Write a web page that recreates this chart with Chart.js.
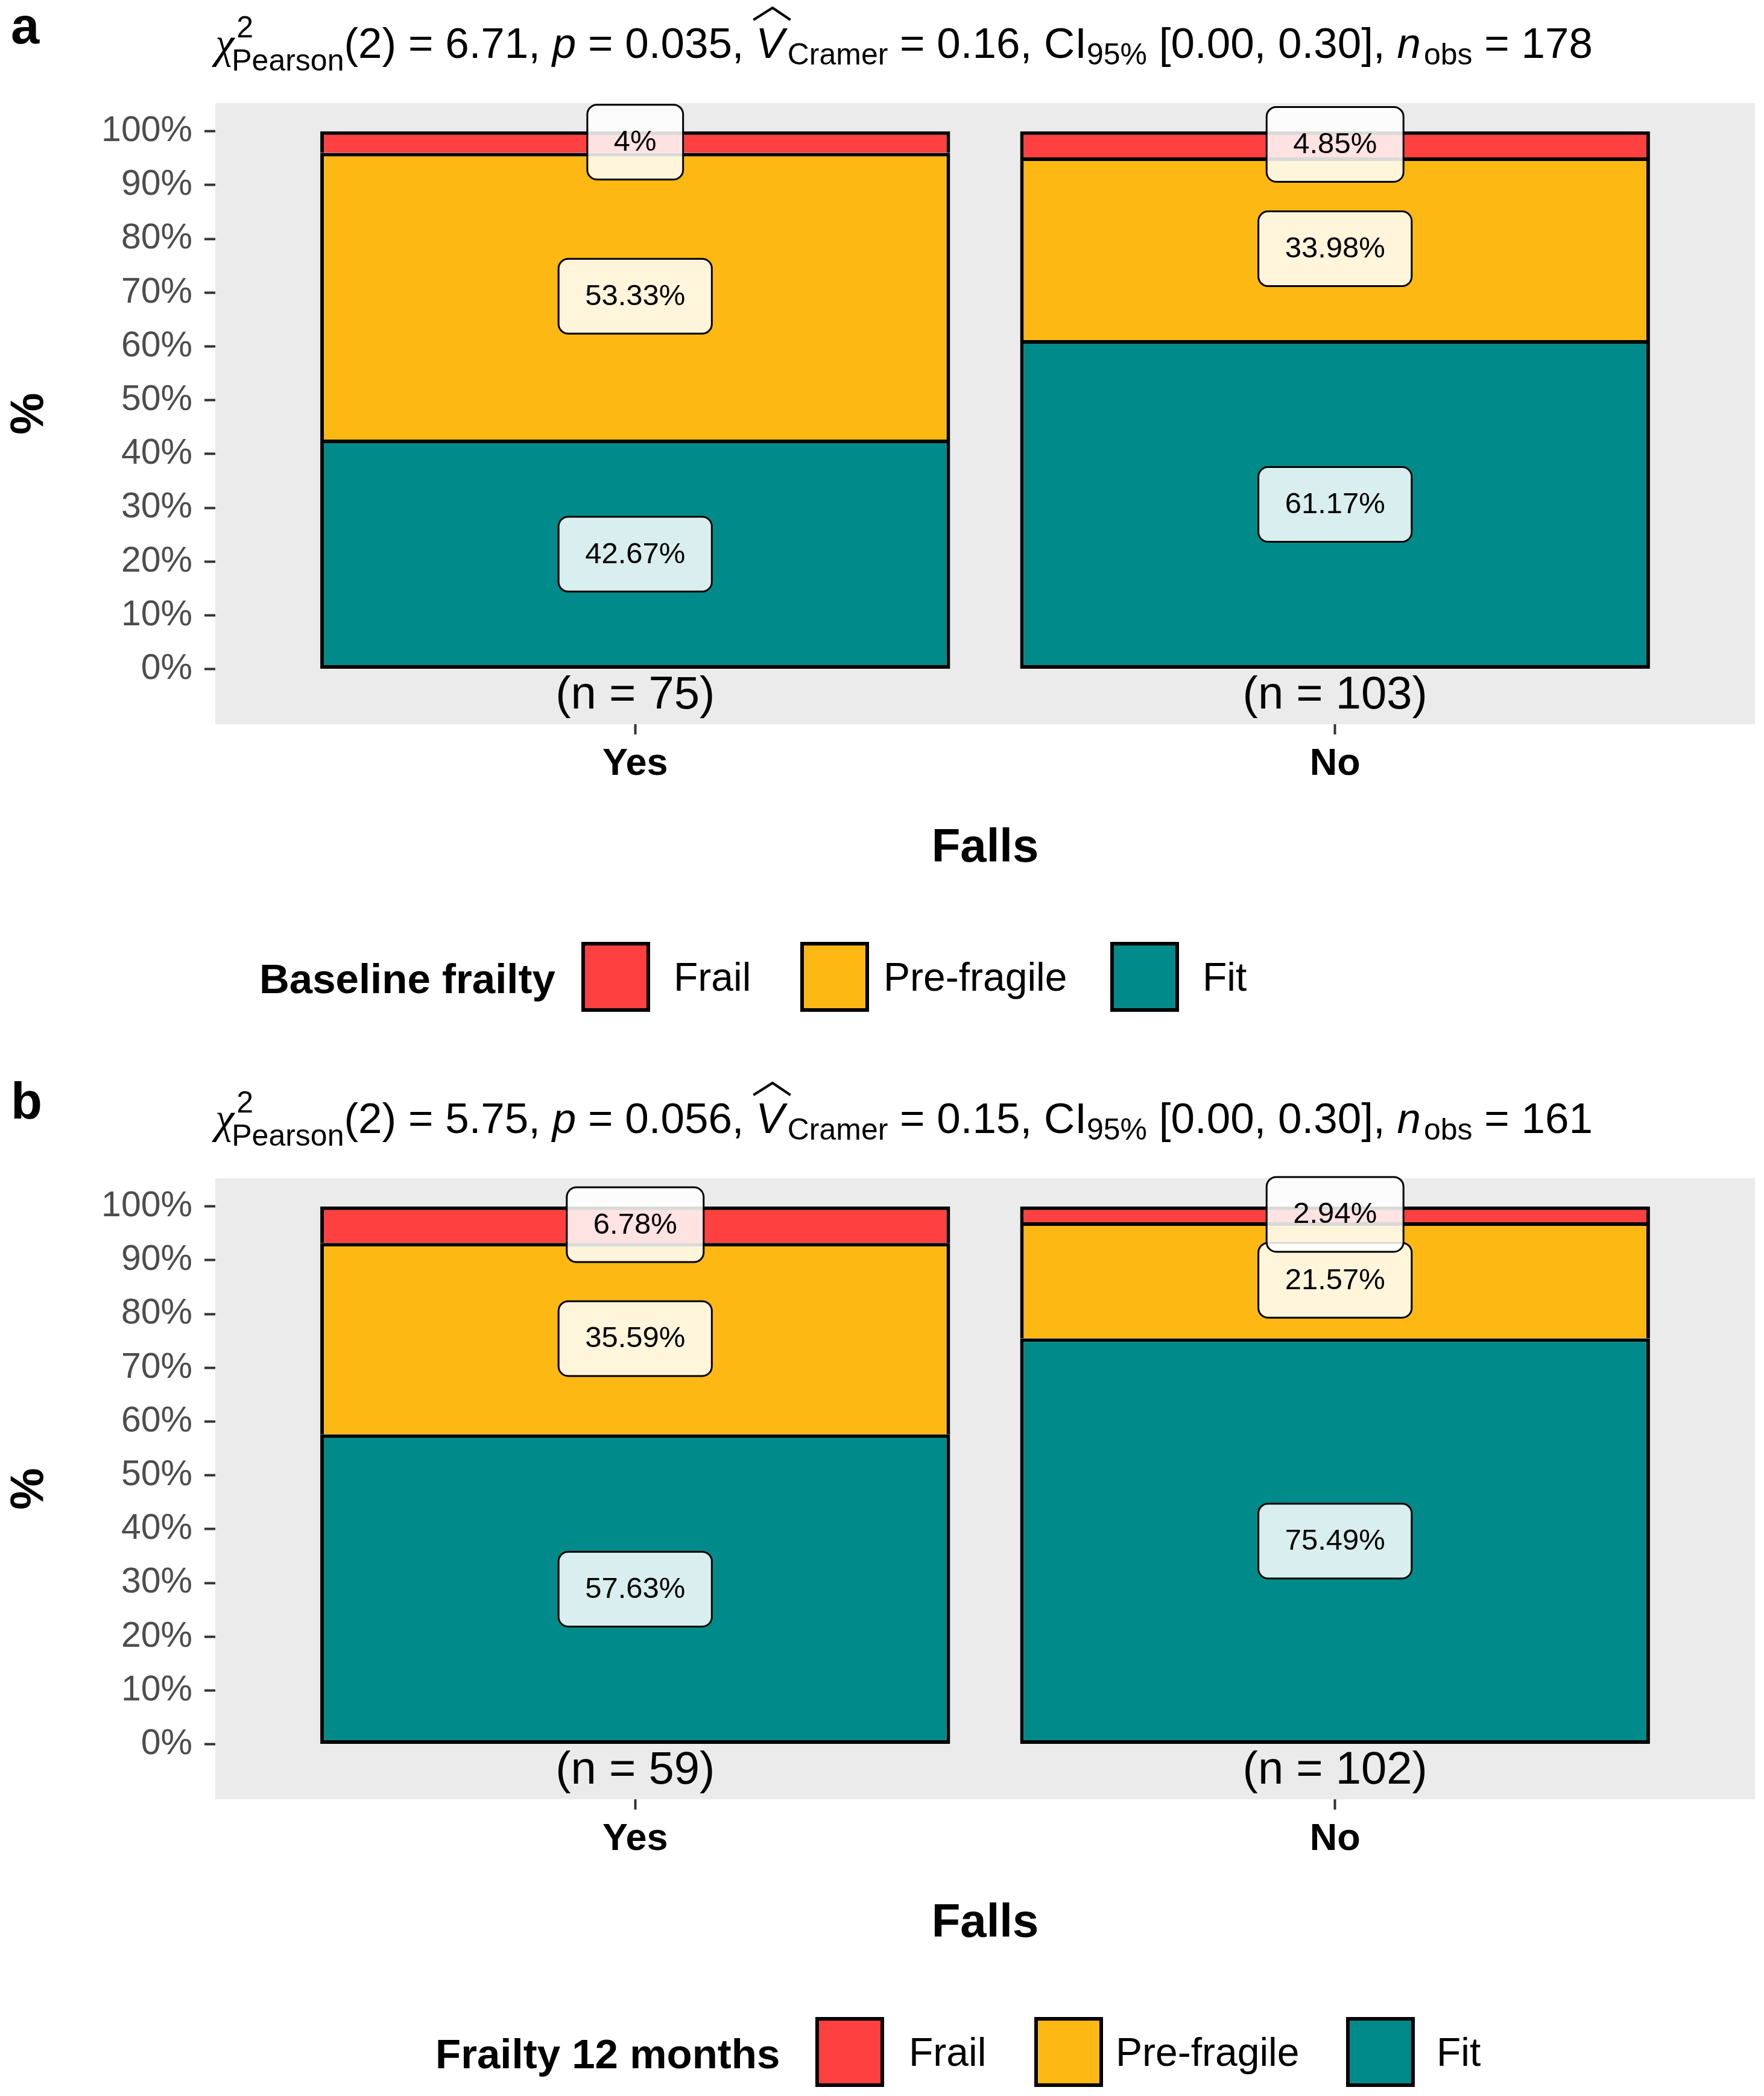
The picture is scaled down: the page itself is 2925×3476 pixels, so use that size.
<!DOCTYPE html>
<html>
<head>
<meta charset="utf-8">
<script src="https://cdn.jsdelivr.net/npm/chart.js@4.4.1/dist/chart.umd.min.js"></script>
<style>
  html, body { margin: 0; padding: 0; background: #ffffff; }
  body { width: 2925px; height: 3476px; overflow: hidden; position: relative; }
  .panel { position: absolute; left: 0; width: 2925px; }
  #pa { top: 0; height: 1783px; }
  #pb { top: 1783px; height: 1693px; }
  canvas { display: block; }
</style>
</head>
<body>
<div class="panel" id="pa"><canvas id="chartA" width="2925" height="1783"></canvas></div>
<div class="panel" id="pb"><canvas id="chartB" width="2925" height="1693"></canvas></div>
<script>
// categories and levels
var groups = ["Yes", "No"];
var levels = ["Frail", "Pre-fragile", "Fit"];
var levelColors = ["#FF4040", "#FDB813", "#008B8A"];
var yTicks = [0, 10, 20, 30, 40, 50, 60, 70, 80, 90, 100];

// panel a - baseline frailty (percent within each group)
var frailA = [4.00, 4.85];
var preA = [53.33, 33.98];
var fitA = [42.67, 61.17];
var countsA = [75, 103];
var statsA = ["2", "6.71", "0.035", "0.16", "0.00", "0.30", "178"];

// panel b - frailty at 12 months
var frailB = [6.78, 2.94];
var preB = [35.59, 21.57];
var fitB = [57.63, 75.49];
var countsB = [59, 102];
var statsB = ["2", "5.75", "0.056", "0.15", "0.00", "0.30", "161"];

var SANS = "'Liberation Sans', Arial, Helvetica, sans-serif";

function rrect(ctx, x, y, w, h, r) {
  ctx.beginPath();
  ctx.moveTo(x + r, y);
  ctx.lineTo(x + w - r, y);
  ctx.arcTo(x + w, y, x + w, y + r, r);
  ctx.lineTo(x + w, y + h - r);
  ctx.arcTo(x + w, y + h, x + w - r, y + h, r);
  ctx.lineTo(x + r, y + h);
  ctx.arcTo(x, y + h, x, y + h - r, r);
  ctx.lineTo(x, y + r);
  ctx.arcTo(x, y, x + r, y, r);
  ctx.closePath();
}

// chi-square subtitle with sub/superscripts
function drawStats(ctx, st, x, base) {
  var F = 71, f = 50;
  var reg = F + "px " + SANS, it = "italic " + F + "px " + SANS, sub = f + "px " + SANS;
  ctx.fillStyle = "#000";
  ctx.textAlign = "left";
  ctx.textBaseline = "alphabetic";
  function put(t, font, dy, dx) {
    ctx.font = font;
    ctx.fillText(t, x + (dx || 0), base + dy);
    return ctx.measureText(t).width;
  }
  x += put("\u03C7", "italic " + F + "px 'Liberation Serif', serif", 0) - 4;
  var w1 = put("2", sub, -34, 8);
  var w2 = put("Pearson", sub, 21);
  x += Math.max(w1 + 8, w2);
  x += put("(" + st[0] + ") = " + st[1] + ", ", reg, 0);
  x += put("p", it, 0);
  x += put(" = " + st[2] + ", ", reg, 0);
  var vx = x;
  var vw = put("V", it, 0);
  ctx.beginPath();
  ctx.moveTo(vx - 4, base - 63);
  ctx.lineTo(vx + vw / 2 + 4, base - 83);
  ctx.lineTo(vx + vw + 10, base - 63);
  ctx.lineWidth = 4;
  ctx.strokeStyle = "#000";
  ctx.stroke();
  x += vw + 5;
  x += put("Cramer", sub, 11);
  x += put(" = " + st[3] + ", CI", reg, 0);
  x += put("95%", sub, 11);
  x += put(" [" + st[4] + ", " + st[5] + "], ", reg, 0);
  x += put("n", it, 0) + 5;
  x += put("obs", sub, 11);
  put(" = " + st[6], reg, 0);
}

function makePlugin(cfg) {
  return {
    id: "frailty" + cfg.letter,
    beforeDraw: function (chart) {
      var ctx = chart.ctx, a = chart.chartArea;
      ctx.save();
      ctx.fillStyle = "#ffffff";
      ctx.fillRect(0, 0, chart.width, chart.height);
      ctx.fillStyle = "#EBEBEB";
      ctx.fillRect(a.left, a.top, a.right - a.left, a.bottom - a.top);
      ctx.restore();
    },
    afterDatasetsDraw: function (chart) {
      var ctx = chart.ctx, xs = chart.scales.x, ys = chart.scales.y;
      ctx.save();
      ctx.textAlign = "center";
      ctx.textBaseline = "middle";
      ctx.fillStyle = "#000";
      ctx.font = "76px " + SANS;
      cfg.counts.forEach(function (n, i) {
        ctx.fillText("(n = " + n + ")", xs.getPixelForValue(i + 1), ys.getPixelForValue(-5));
      });
      ctx.font = "49px " + SANS;
      chart.data.datasets.forEach(function (ds, di) {
        var meta = chart.getDatasetMeta(di);
        meta.data.forEach(function (bar, j) {
          var v = ds.data[j].y;
          var txt = (+v.toFixed(2)) + "%";
          var p = bar.getProps(["x", "y", "base"], true);
          var cy = (p.y + p.base) / 2;
          var w = ctx.measureText(txt).width + 88, h = 124;
          rrect(ctx, p.x - w / 2, cy - h / 2, w, h, 16);
          ctx.fillStyle = "rgba(255,255,255,0.85)";
          ctx.fill();
          ctx.lineWidth = 3;
          ctx.strokeStyle = "#000";
          ctx.stroke();
          ctx.fillStyle = "#000";
          ctx.fillText(txt, p.x, cy + 1);
        });
      });
      ctx.restore();
    },
    afterDraw: function (chart) {
      var ctx = chart.ctx;
      ctx.save();
      ctx.fillStyle = "#000";
      ctx.textAlign = "left";
      ctx.textBaseline = "alphabetic";
      ctx.font = "bold 85px " + SANS;
      ctx.fillText(cfg.letter, 18, 72);
      drawStats(ctx, cfg.stats, 357, 96);
      // legend
      ctx.textBaseline = "middle";
      ctx.fillStyle = "#000";
      ctx.font = "bold 69px " + SANS;
      ctx.fillText(cfg.legendTitle, cfg.legendTitleX, 1628);
      levels.forEach(function (lv, i) {
        var sx = cfg.swatchX[i];
        ctx.fillStyle = levelColors[i];
        ctx.fillRect(sx, 1562, 114, 116);
        ctx.lineWidth = 6;
        ctx.strokeStyle = "#000";
        ctx.strokeRect(sx + 3, 1565, 108, 110);
        ctx.fillStyle = "#000";
        ctx.font = "66px " + SANS;
        ctx.fillText(lv, cfg.labelX[i], 1625);
      });
      ctx.restore();
    }
  };
}

function buildChart(canvasId, frail, pre, fit, cfg, bottomPad) {
  var series = [fit, pre, frail];
  var order = [2, 1, 0];
  var datasets = series.map(function (vals, k) {
    var li = order[k];
    return {
      label: levels[li],
      data: vals.map(function (v, i) { return { x: i + 1, y: v }; }),
      backgroundColor: levelColors[li],
      borderColor: "#000000",
      borderWidth: 6,
      borderSkipped: k === 0 ? false : "start",
      grouped: false,
      categoryPercentage: 1.0,
      barPercentage: 0.9
    };
  });
  return new Chart(document.getElementById(canvasId), {
    type: "bar",
    data: { datasets: datasets },
    options: {
      responsive: false,
      animation: false,
      devicePixelRatio: 1,
      layout: { padding: { left: 0, top: 171, right: 15, bottom: bottomPad } },
      plugins: {
        legend: { display: false },
        tooltip: { enabled: false }
      },
      scales: {
        x: {
          type: "linear",
          offset: false,
          stacked: true,
          bounds: "data",
          min: 0.4,
          max: 2.6,
          afterBuildTicks: function (scale) {
            scale.ticks = groups.map(function (g, i) { return { value: i + 1 }; });
          },
          afterFit: function (scale) { scale.height = 269; },
          ticks: {
            autoSkip: false,
            maxRotation: 0,
            padding: 12,
            color: "#000000",
            font: { family: SANS, size: 63, weight: "bold" },
            callback: function (value) { return groups[Math.round(value) - 1]; }
          },
          grid: {
            offset: false,
            drawOnChartArea: false,
            drawTicks: true,
            tickLength: 17,
            tickWidth: 4,
            tickColor: "#333333"
          },
          border: { display: false },
          title: {
            display: true,
            text: "Falls",
            color: "#000000",
            font: { family: SANS, size: 78, weight: "bold" },
            padding: { top: 0, bottom: 16 }
          }
        },
        y: {
          stacked: true,
          min: -10.25,
          max: 105.25,
          afterBuildTicks: function (scale) {
            scale.ticks = yTicks.map(function (v) { return { value: v }; });
          },
          afterFit: function (scale) { scale.width = 357; },
          ticks: {
            autoSkip: false,
            padding: 20,
            color: "#4D4D4D",
            font: { family: SANS, size: 59 },
            callback: function (value) { return value + "%"; }
          },
          grid: {
            drawOnChartArea: false,
            drawTicks: true,
            tickLength: 18,
            tickWidth: 4,
            tickColor: "#333333"
          },
          border: { display: false },
          title: {
            display: true,
            text: "%",
            color: "#000000",
            font: { family: SANS, size: 78, weight: "bold" },
            padding: { top: 3, bottom: 0 }
          }
        }
      }
    },
    plugins: [makePlugin(cfg)]
  });
}

buildChart("chartA", frailA, preA, fitA, {
  letter: "a",
  stats: statsA,
  counts: countsA,
  legendTitle: "Baseline frailty",
  legendTitleX: 430,
  swatchX: [964, 1327, 1841],
  labelX: [1117, 1465, 1994]
}, 313);

buildChart("chartB", frailB, preB, fitB, {
  letter: "b",
  stats: statsB,
  counts: countsB,
  legendTitle: "Frailty 12 months",
  legendTitleX: 722,
  swatchX: [1352, 1715, 2232],
  labelX: [1507, 1850, 2382]
}, 223);
</script>
</body>
</html>
